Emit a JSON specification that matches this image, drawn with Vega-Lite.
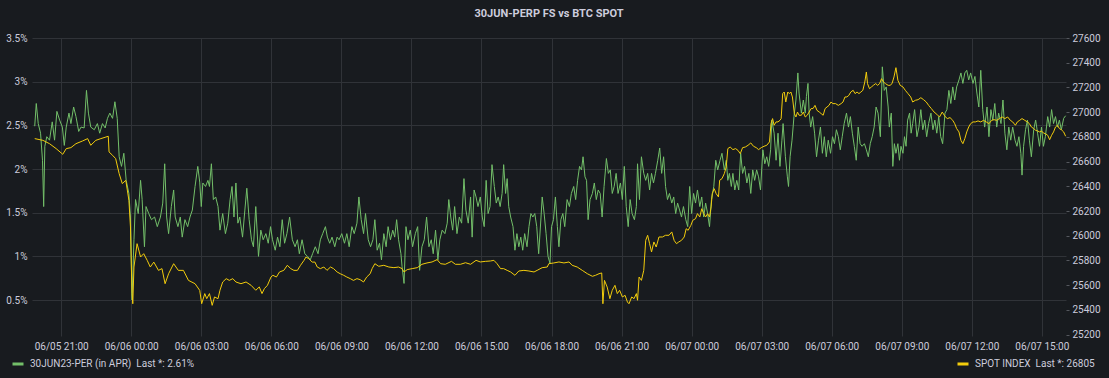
{
"$schema": "https://vega.github.io/schema/vega-lite/v6.json",
"width": 1034, "height": 298,
"autosize": {"type": "none"},
"padding": {"left": 32, "top": 38, "right": 43, "bottom": 42},
"background": "#181b1f",
"title": {"text": "30JUN-PERP FS vs BTC SPOT", "font": "Roboto", "fontSize": 11, "fontWeight": "bold", "color": "#ccccdc", "anchor": "middle", "offset": 14},
"config": {
  "font": "Roboto",
  "view": {"stroke": null},
  "axis": {"labelFont": "Roboto", "labelFontSize": 10, "labelColor": "#ccccdc", "domain": false, "gridColor": "#303338", "gridWidth": 1, "title": null}
},
"datasets": {
"perp": [
{"t":"2023-06-05T19:52","v":2.49},{"t":"2023-06-05T19:56","v":2.75},{"t":"2023-06-05T20:01","v":2.52},{"t":"2023-06-05T20:07","v":2.41},{"t":"2023-06-05T20:12","v":2.10},{"t":"2023-06-05T20:15","v":1.57},{"t":"2023-06-05T20:18","v":2.26},{"t":"2023-06-05T20:23","v":2.37},{"t":"2023-06-05T20:30","v":2.33},{"t":"2023-06-05T20:37","v":2.54},{"t":"2023-06-05T20:43","v":2.33},{"t":"2023-06-05T20:49","v":2.66},{"t":"2023-06-05T20:56","v":2.56},{"t":"2023-06-05T21:03","v":2.48},{"t":"2023-06-05T21:08","v":2.27},{"t":"2023-06-05T21:13","v":2.48},{"t":"2023-06-05T21:20","v":2.64},{"t":"2023-06-05T21:25","v":2.52},{"t":"2023-06-05T21:32","v":2.71},{"t":"2023-06-05T21:38","v":2.60},{"t":"2023-06-05T21:45","v":2.43},{"t":"2023-06-05T21:51","v":2.48},{"t":"2023-06-05T21:59","v":2.47},{"t":"2023-06-05T22:05","v":2.90},{"t":"2023-06-05T22:10","v":2.64},{"t":"2023-06-05T22:16","v":2.48},{"t":"2023-06-05T22:25","v":2.45},{"t":"2023-06-05T22:33","v":2.52},{"t":"2023-06-05T22:39","v":2.41},{"t":"2023-06-05T22:46","v":2.52},{"t":"2023-06-05T22:53","v":2.47},{"t":"2023-06-05T22:59","v":2.58},{"t":"2023-06-05T23:05","v":2.64},{"t":"2023-06-05T23:12","v":2.58},{"t":"2023-06-05T23:18","v":2.77},{"t":"2023-06-05T23:24","v":2.58},{"t":"2023-06-05T23:29","v":2.14},{"t":"2023-06-05T23:35","v":2.03},{"t":"2023-06-05T23:41","v":2.18},{"t":"2023-06-05T23:47","v":1.87},{"t":"2023-06-05T23:54","v":1.72},{"t":"2023-06-05T23:58","v":1.45},
{"t":"2023-06-06T00:02","v":0.50},{"t":"2023-06-06T00:07","v":1.19},{"t":"2023-06-06T00:11","v":1.65},{"t":"2023-06-06T00:18","v":1.49},{"t":"2023-06-06T00:24","v":1.87},{"t":"2023-06-06T00:28","v":1.65},{"t":"2023-06-06T00:34","v":1.11},{"t":"2023-06-06T00:38","v":1.57},{"t":"2023-06-06T00:45","v":1.49},{"t":"2023-06-06T00:52","v":1.42},{"t":"2023-06-06T01:00","v":1.45},{"t":"2023-06-06T01:07","v":1.34},{"t":"2023-06-06T01:15","v":1.45},{"t":"2023-06-06T01:21","v":1.61},{"t":"2023-06-06T01:26","v":2.06},{"t":"2023-06-06T01:31","v":1.45},{"t":"2023-06-06T01:36","v":1.26},{"t":"2023-06-06T01:43","v":1.57},{"t":"2023-06-06T01:49","v":1.76},{"t":"2023-06-06T01:53","v":1.45},{"t":"2023-06-06T02:00","v":1.34},{"t":"2023-06-06T02:06","v":1.45},{"t":"2023-06-06T02:11","v":1.22},{"t":"2023-06-06T02:18","v":1.42},{"t":"2023-06-06T02:25","v":1.34},{"t":"2023-06-06T02:31","v":1.45},{"t":"2023-06-06T02:37","v":1.53},{"t":"2023-06-06T02:44","v":1.80},{"t":"2023-06-06T02:51","v":2.03},{"t":"2023-06-06T02:56","v":1.85},
{"t":"2023-06-06T03:00","v":1.57},{"t":"2023-06-06T03:04","v":1.84},{"t":"2023-06-06T03:11","v":1.80},{"t":"2023-06-06T03:17","v":1.87},{"t":"2023-06-06T03:21","v":1.80},{"t":"2023-06-06T03:26","v":2.06},{"t":"2023-06-06T03:31","v":1.65},{"t":"2023-06-06T03:37","v":1.68},{"t":"2023-06-06T03:43","v":1.57},{"t":"2023-06-06T03:48","v":1.30},{"t":"2023-06-06T03:55","v":1.49},{"t":"2023-06-06T04:02","v":1.26},{"t":"2023-06-06T04:08","v":1.38},{"t":"2023-06-06T04:14","v":1.65},{"t":"2023-06-06T04:19","v":1.80},{"t":"2023-06-06T04:24","v":1.45},{"t":"2023-06-06T04:29","v":1.84},{"t":"2023-06-06T04:34","v":1.38},{"t":"2023-06-06T04:39","v":1.45},{"t":"2023-06-06T04:46","v":1.22},{"t":"2023-06-06T04:52","v":1.53},{"t":"2023-06-06T04:57","v":1.78},{"t":"2023-06-06T05:03","v":1.42},{"t":"2023-06-06T05:09","v":1.19},{"t":"2023-06-06T05:14","v":1.11},{"t":"2023-06-06T05:20","v":1.57},{"t":"2023-06-06T05:27","v":1.00},{"t":"2023-06-06T05:33","v":1.30},{"t":"2023-06-06T05:39","v":1.19},{"t":"2023-06-06T05:46","v":1.26},{"t":"2023-06-06T05:52","v":1.15},{"t":"2023-06-06T05:58","v":1.34},{"t":"2023-06-06T06:03","v":1.19},{"t":"2023-06-06T06:10","v":1.07},{"t":"2023-06-06T06:16","v":1.22},{"t":"2023-06-06T06:22","v":1.11},{"t":"2023-06-06T06:28","v":1.42},{"t":"2023-06-06T06:34","v":1.15},{"t":"2023-06-06T06:40","v":1.26},{"t":"2023-06-06T06:47","v":1.45},{"t":"2023-06-06T06:54","v":1.19},{"t":"2023-06-06T07:01","v":1.11},{"t":"2023-06-06T07:07","v":1.19},{"t":"2023-06-06T07:12","v":1.03},{"t":"2023-06-06T07:19","v":1.19},{"t":"2023-06-06T07:26","v":1.03},{"t":"2023-06-06T07:33","v":1.00},{"t":"2023-06-06T07:40","v":0.96},{"t":"2023-06-06T07:46","v":1.03},{"t":"2023-06-06T07:53","v":1.11},{"t":"2023-06-06T08:00","v":1.03},{"t":"2023-06-06T08:06","v":1.19},{"t":"2023-06-06T08:12","v":1.26},{"t":"2023-06-06T08:19","v":1.34},{"t":"2023-06-06T08:24","v":1.22},{"t":"2023-06-06T08:30","v":1.15},{"t":"2023-06-06T08:36","v":1.22},{"t":"2023-06-06T08:43","v":1.11},{"t":"2023-06-06T08:49","v":1.22},{"t":"2023-06-06T08:54","v":1.19},{"t":"2023-06-06T09:01","v":1.26},{"t":"2023-06-06T09:08","v":1.15},{"t":"2023-06-06T09:14","v":1.26},{"t":"2023-06-06T09:20","v":1.11},{"t":"2023-06-06T09:27","v":1.34},{"t":"2023-06-06T09:33","v":1.26},{"t":"2023-06-06T09:40","v":1.38},{"t":"2023-06-06T09:45","v":1.68},{"t":"2023-06-06T09:51","v":1.42},{"t":"2023-06-06T09:57","v":1.26},{"t":"2023-06-06T10:02","v":1.49},{"t":"2023-06-06T10:09","v":1.19},
{"t":"2023-06-06T10:15","v":1.11},{"t":"2023-06-06T10:21","v":1.19},{"t":"2023-06-06T10:26","v":1.42},{"t":"2023-06-06T10:32","v":1.07},{"t":"2023-06-06T10:38","v":1.15},{"t":"2023-06-06T10:43","v":0.96},{"t":"2023-06-06T10:49","v":1.26},{"t":"2023-06-06T10:55","v":1.11},{"t":"2023-06-06T11:00","v":1.34},{"t":"2023-06-06T11:06","v":1.19},{"t":"2023-06-06T11:12","v":1.30},{"t":"2023-06-06T11:17","v":1.22},{"t":"2023-06-06T11:22","v":1.42},{"t":"2023-06-06T11:27","v":1.19},{"t":"2023-06-06T11:33","v":1.03},{"t":"2023-06-06T11:36","v":0.88},{"t":"2023-06-06T11:41","v":0.69},{"t":"2023-06-06T11:46","v":1.34},{"t":"2023-06-06T11:51","v":1.19},{"t":"2023-06-06T11:57","v":1.30},{"t":"2023-06-06T12:03","v":1.11},{"t":"2023-06-06T12:10","v":1.26},{"t":"2023-06-06T12:16","v":1.34},{"t":"2023-06-06T12:21","v":0.84},{"t":"2023-06-06T12:27","v":1.11},{"t":"2023-06-06T12:33","v":1.19},{"t":"2023-06-06T12:39","v":1.45},{"t":"2023-06-06T12:45","v":1.11},{"t":"2023-06-06T12:51","v":1.19},{"t":"2023-06-06T12:56","v":1.03},{"t":"2023-06-06T13:02","v":1.30},{"t":"2023-06-06T13:08","v":0.96},{"t":"2023-06-06T13:13","v":1.19},{"t":"2023-06-06T13:19","v":1.30},{"t":"2023-06-06T13:26","v":1.26},{"t":"2023-06-06T13:32","v":1.38},{"t":"2023-06-06T13:36","v":1.65},{"t":"2023-06-06T13:41","v":1.45},{"t":"2023-06-06T13:46","v":1.30},{"t":"2023-06-06T13:51","v":1.57},{"t":"2023-06-06T13:57","v":1.26},{"t":"2023-06-06T14:03","v":1.45},{"t":"2023-06-06T14:09","v":1.38},{"t":"2023-06-06T14:15","v":1.89},{"t":"2023-06-06T14:20","v":1.53},{"t":"2023-06-06T14:26","v":1.38},{"t":"2023-06-06T14:32","v":1.68},{"t":"2023-06-06T14:36","v":1.22},{"t":"2023-06-06T14:41","v":1.76},{"t":"2023-06-06T14:46","v":1.68},{"t":"2023-06-06T14:51","v":1.57},{"t":"2023-06-06T14:57","v":1.68},{"t":"2023-06-06T15:02","v":1.45},{"t":"2023-06-06T15:07","v":1.34},{"t":"2023-06-06T15:12","v":1.87},{"t":"2023-06-06T15:17","v":1.49},{"t":"2023-06-06T15:22","v":1.57},{"t":"2023-06-06T15:27","v":2.05},{"t":"2023-06-06T15:33","v":1.80},{"t":"2023-06-06T15:38","v":1.61},{"t":"2023-06-06T15:43","v":1.68},{"t":"2023-06-06T15:48","v":1.57},{"t":"2023-06-06T15:53","v":1.72},{"t":"2023-06-06T15:57","v":2.05},{"t":"2023-06-06T16:02","v":1.72},{"t":"2023-06-06T16:06","v":1.89},{"t":"2023-06-06T16:10","v":1.57},{"t":"2023-06-06T16:15","v":1.45},{"t":"2023-06-06T16:21","v":1.34},{"t":"2023-06-06T16:26","v":1.07},{"t":"2023-06-06T16:31","v":1.26},{"t":"2023-06-06T16:36","v":1.11},{"t":"2023-06-06T16:41","v":1.22},{"t":"2023-06-06T16:46","v":1.07},{"t":"2023-06-06T16:51","v":1.26},{"t":"2023-06-06T16:57","v":1.11},{"t":"2023-06-06T17:02","v":1.34},{"t":"2023-06-06T17:07","v":1.49},{"t":"2023-06-06T17:12","v":1.45},{"t":"2023-06-06T17:17","v":1.49},{"t":"2023-06-06T17:22","v":1.34},{"t":"2023-06-06T17:27","v":1.03},{"t":"2023-06-06T17:33","v":1.45},{"t":"2023-06-06T17:36","v":1.68},{"t":"2023-06-06T17:41","v":1.49},{"t":"2023-06-06T17:46","v":1.26},{"t":"2023-06-06T17:51","v":1.00},
{"t":"2023-06-06T17:56","v":0.92},{"t":"2023-06-06T18:00","v":1.34},{"t":"2023-06-06T18:05","v":1.42},{"t":"2023-06-06T18:10","v":1.68},{"t":"2023-06-06T18:15","v":1.34},{"t":"2023-06-06T18:19","v":1.11},{"t":"2023-06-06T18:24","v":1.42},{"t":"2023-06-06T18:29","v":1.49},{"t":"2023-06-06T18:34","v":1.34},{"t":"2023-06-06T18:40","v":1.65},{"t":"2023-06-06T18:46","v":1.57},{"t":"2023-06-06T18:51","v":1.72},{"t":"2023-06-06T18:57","v":1.80},{"t":"2023-06-06T19:02","v":1.65},{"t":"2023-06-06T19:07","v":1.87},{"t":"2023-06-06T19:12","v":2.03},{"t":"2023-06-06T19:17","v":1.99},{"t":"2023-06-06T19:21","v":2.14},{"t":"2023-06-06T19:26","v":1.91},{"t":"2023-06-06T19:30","v":1.87},{"t":"2023-06-06T19:34","v":1.42},{"t":"2023-06-06T19:39","v":1.65},{"t":"2023-06-06T19:45","v":1.72},{"t":"2023-06-06T19:50","v":1.84},{"t":"2023-06-06T19:55","v":1.65},{"t":"2023-06-06T20:00","v":1.76},{"t":"2023-06-06T20:05","v":1.72},{"t":"2023-06-06T20:10","v":1.45},{"t":"2023-06-06T20:15","v":1.80},{"t":"2023-06-06T20:21","v":2.12},{"t":"2023-06-06T20:26","v":1.95},{"t":"2023-06-06T20:31","v":1.99},{"t":"2023-06-06T20:36","v":1.72},{"t":"2023-06-06T20:41","v":1.80},{"t":"2023-06-06T20:46","v":1.95},{"t":"2023-06-06T20:51","v":1.72},{"t":"2023-06-06T20:57","v":1.84},{"t":"2023-06-06T21:02","v":1.65},{"t":"2023-06-06T21:07","v":2.03},{"t":"2023-06-06T21:12","v":1.57},{"t":"2023-06-06T21:17","v":1.34},{"t":"2023-06-06T21:22","v":1.65},{"t":"2023-06-06T21:27","v":1.49},{"t":"2023-06-06T21:33","v":1.42},{"t":"2023-06-06T21:38","v":1.57},{"t":"2023-06-06T21:41","v":2.06},{"t":"2023-06-06T21:46","v":1.65},{"t":"2023-06-06T21:51","v":2.14},{"t":"2023-06-06T21:57","v":1.95},{"t":"2023-06-06T22:02","v":1.87},{"t":"2023-06-06T22:07","v":1.95},{"t":"2023-06-06T22:12","v":1.76},{"t":"2023-06-06T22:17","v":1.95},{"t":"2023-06-06T22:22","v":1.84},{"t":"2023-06-06T22:27","v":1.95},{"t":"2023-06-06T22:33","v":2.10},{"t":"2023-06-06T22:38","v":2.24},{"t":"2023-06-06T22:43","v":1.95},{"t":"2023-06-06T22:48","v":2.14},{"t":"2023-06-06T22:53","v":1.80},{"t":"2023-06-06T22:58","v":1.65},{"t":"2023-06-06T23:03","v":1.72},{"t":"2023-06-06T23:09","v":1.61},{"t":"2023-06-06T23:14","v":1.68},{"t":"2023-06-06T23:19","v":1.49},{"t":"2023-06-06T23:24","v":1.61},{"t":"2023-06-06T23:29","v":1.53},{"t":"2023-06-06T23:34","v":1.45},{"t":"2023-06-06T23:39","v":1.57},{"t":"2023-06-06T23:45","v":1.42},{"t":"2023-06-06T23:50","v":1.34},{"t":"2023-06-06T23:55","v":1.80},
{"t":"2023-06-07T00:00","v":1.49},{"t":"2023-06-07T00:05","v":1.72},{"t":"2023-06-07T00:10","v":1.61},{"t":"2023-06-07T00:15","v":1.76},{"t":"2023-06-07T00:21","v":1.57},{"t":"2023-06-07T00:26","v":1.68},{"t":"2023-06-07T00:31","v":1.45},{"t":"2023-06-07T00:36","v":1.61},{"t":"2023-06-07T00:41","v":1.49},{"t":"2023-06-07T00:46","v":1.34},{"t":"2023-06-07T00:51","v":1.65},{"t":"2023-06-07T00:57","v":1.80},{"t":"2023-06-07T01:02","v":2.10},{"t":"2023-06-07T01:07","v":1.99},{"t":"2023-06-07T01:13","v":2.10},{"t":"2023-06-07T01:18","v":2.18},{"t":"2023-06-07T01:24","v":1.99},{"t":"2023-06-07T01:29","v":2.10},{"t":"2023-06-07T01:33","v":1.87},{"t":"2023-06-07T01:37","v":1.95},{"t":"2023-06-07T01:42","v":1.80},{"t":"2023-06-07T01:46","v":1.95},{"t":"2023-06-07T01:51","v":1.76},{"t":"2023-06-07T01:56","v":1.87},{"t":"2023-06-07T02:01","v":1.76},{"t":"2023-06-07T02:06","v":2.18},{"t":"2023-06-07T02:11","v":1.95},{"t":"2023-06-07T02:16","v":2.03},{"t":"2023-06-07T02:22","v":1.84},{"t":"2023-06-07T02:27","v":1.95},{"t":"2023-06-07T02:32","v":1.72},{"t":"2023-06-07T02:37","v":1.99},{"t":"2023-06-07T02:42","v":1.87},{"t":"2023-06-07T02:47","v":1.99},{"t":"2023-06-07T02:52","v":1.91},{"t":"2023-06-07T02:57","v":1.76},{"t":"2023-06-07T03:03","v":2.22},{"t":"2023-06-07T03:08","v":2.06},{"t":"2023-06-07T03:13","v":2.14},{"t":"2023-06-07T03:18","v":2.03},{"t":"2023-06-07T03:23","v":2.22},{"t":"2023-06-07T03:26","v":2.56},{"t":"2023-06-07T03:32","v":2.41},{"t":"2023-06-07T03:37","v":2.10},{"t":"2023-06-07T03:42","v":2.41},{"t":"2023-06-07T03:47","v":2.03},{"t":"2023-06-07T03:52","v":2.33},{"t":"2023-06-07T03:55","v":2.52},{"t":"2023-06-07T04:01","v":2.14},{"t":"2023-06-07T04:06","v":1.91},{"t":"2023-06-07T04:09","v":1.80},{"t":"2023-06-07T04:13","v":2.14},{"t":"2023-06-07T04:18","v":2.33},{"t":"2023-06-07T04:23","v":2.60},{"t":"2023-06-07T04:28","v":2.79},{"t":"2023-06-07T04:33","v":3.10},{"t":"2023-06-07T04:36","v":2.87},{"t":"2023-06-07T04:42","v":2.64},{"t":"2023-06-07T04:47","v":2.79},{"t":"2023-06-07T04:52","v":2.64},{"t":"2023-06-07T04:55","v":2.83},{"t":"2023-06-07T04:59","v":2.98},{"t":"2023-06-07T05:02","v":2.64},{"t":"2023-06-07T05:06","v":2.48},{"t":"2023-06-07T05:11","v":2.60},{"t":"2023-06-07T05:16","v":2.41},{"t":"2023-06-07T05:21","v":2.14},{"t":"2023-06-07T05:26","v":2.33},{"t":"2023-06-07T05:31","v":2.48},{"t":"2023-06-07T05:36","v":2.18},{"t":"2023-06-07T05:41","v":2.37},{"t":"2023-06-07T05:46","v":2.14},{"t":"2023-06-07T05:51","v":2.33},{"t":"2023-06-07T05:57","v":2.18},{"t":"2023-06-07T06:02","v":2.37},{"t":"2023-06-07T06:07","v":2.29},{"t":"2023-06-07T06:12","v":2.45},{"t":"2023-06-07T06:17","v":2.37},{"t":"2023-06-07T06:22","v":2.22},{"t":"2023-06-07T06:27","v":2.37},{"t":"2023-06-07T06:32","v":2.52},{"t":"2023-06-07T06:38","v":2.64},{"t":"2023-06-07T06:43","v":2.48},{"t":"2023-06-07T06:48","v":2.60},{"t":"2023-06-07T06:53","v":2.41},{"t":"2023-06-07T06:58","v":2.26},{"t":"2023-06-07T07:03","v":2.10},{"t":"2023-06-07T07:08","v":2.48},{"t":"2023-06-07T07:13","v":2.29},{"t":"2023-06-07T07:18","v":2.26},{"t":"2023-06-07T07:24","v":2.29},{"t":"2023-06-07T07:29","v":2.22},{"t":"2023-06-07T07:34","v":2.14},{"t":"2023-06-07T07:39","v":2.29},{"t":"2023-06-07T07:44","v":2.37},{"t":"2023-06-07T07:49","v":2.48},{"t":"2023-06-07T07:54","v":2.71},{"t":"2023-06-07T07:59","v":2.64},{"t":"2023-06-07T08:05","v":2.37},{"t":"2023-06-07T08:10","v":3.17},{"t":"2023-06-07T08:15","v":2.90},{"t":"2023-06-07T08:20","v":2.94},{"t":"2023-06-07T08:25","v":2.71},
{"t":"2023-06-07T08:28","v":2.48},{"t":"2023-06-07T08:33","v":2.64},{"t":"2023-06-07T08:37","v":2.03},{"t":"2023-06-07T08:41","v":2.29},{"t":"2023-06-07T08:45","v":2.18},{"t":"2023-06-07T08:50","v":2.29},{"t":"2023-06-07T08:54","v":2.10},{"t":"2023-06-07T08:58","v":2.26},{"t":"2023-06-07T09:03","v":2.18},{"t":"2023-06-07T09:07","v":2.37},{"t":"2023-06-07T09:11","v":2.26},{"t":"2023-06-07T09:15","v":2.56},{"t":"2023-06-07T09:20","v":2.64},{"t":"2023-06-07T09:24","v":2.41},{"t":"2023-06-07T09:28","v":2.52},{"t":"2023-06-07T09:33","v":2.68},{"t":"2023-06-07T09:39","v":2.37},{"t":"2023-06-07T09:44","v":2.48},{"t":"2023-06-07T09:49","v":2.68},{"t":"2023-06-07T09:54","v":2.45},{"t":"2023-06-07T09:59","v":2.56},{"t":"2023-06-07T10:04","v":2.37},{"t":"2023-06-07T10:09","v":2.52},{"t":"2023-06-07T10:15","v":2.64},{"t":"2023-06-07T10:20","v":2.45},{"t":"2023-06-07T10:25","v":2.56},{"t":"2023-06-07T10:30","v":2.41},{"t":"2023-06-07T10:35","v":2.60},{"t":"2023-06-07T10:40","v":2.37},{"t":"2023-06-07T10:45","v":2.29},{"t":"2023-06-07T10:51","v":2.64},{"t":"2023-06-07T10:56","v":2.68},{"t":"2023-06-07T11:01","v":2.90},{"t":"2023-06-07T11:06","v":2.75},{"t":"2023-06-07T11:11","v":2.94},{"t":"2023-06-07T11:16","v":2.79},{"t":"2023-06-07T11:21","v":2.94},{"t":"2023-06-07T11:27","v":3.02},{"t":"2023-06-07T11:32","v":3.10},{"t":"2023-06-07T11:37","v":2.98},{"t":"2023-06-07T11:42","v":3.10},{"t":"2023-06-07T11:47","v":3.13},{"t":"2023-06-07T11:52","v":3.02},{"t":"2023-06-07T11:57","v":3.10},{"t":"2023-06-07T12:03","v":2.98},{"t":"2023-06-07T12:08","v":3.06},{"t":"2023-06-07T12:13","v":2.87},{"t":"2023-06-07T12:18","v":2.71},{"t":"2023-06-07T12:23","v":3.13},{"t":"2023-06-07T12:28","v":2.68},{"t":"2023-06-07T12:33","v":2.48},{"t":"2023-06-07T12:39","v":2.71},{"t":"2023-06-07T12:44","v":2.37},{"t":"2023-06-07T12:49","v":2.68},{"t":"2023-06-07T12:54","v":2.56},{"t":"2023-06-07T12:59","v":2.75},{"t":"2023-06-07T13:04","v":2.48},{"t":"2023-06-07T13:09","v":2.64},{"t":"2023-06-07T13:15","v":2.52},{"t":"2023-06-07T13:20","v":2.79},{"t":"2023-06-07T13:25","v":2.41},{"t":"2023-06-07T13:30","v":2.22},{"t":"2023-06-07T13:35","v":2.48},{"t":"2023-06-07T13:40","v":2.33},{"t":"2023-06-07T13:45","v":2.48},{"t":"2023-06-07T13:51","v":2.33},{"t":"2023-06-07T13:56","v":2.26},{"t":"2023-06-07T14:01","v":2.37},{"t":"2023-06-07T14:06","v":2.18},{"t":"2023-06-07T14:09","v":1.93},{"t":"2023-06-07T14:13","v":2.26},{"t":"2023-06-07T14:18","v":2.45},{"t":"2023-06-07T14:23","v":2.56},{"t":"2023-06-07T14:28","v":2.33},{"t":"2023-06-07T14:33","v":2.14},{"t":"2023-06-07T14:39","v":2.45},{"t":"2023-06-07T14:44","v":2.56},{"t":"2023-06-07T14:49","v":2.41},{"t":"2023-06-07T14:54","v":2.26},{"t":"2023-06-07T14:59","v":2.48},{"t":"2023-06-07T15:04","v":2.26},{"t":"2023-06-07T15:09","v":2.37},{"t":"2023-06-07T15:15","v":2.60},{"t":"2023-06-07T15:20","v":2.48},{"t":"2023-06-07T15:25","v":2.68},{"t":"2023-06-07T15:30","v":2.52},{"t":"2023-06-07T15:35","v":2.60},{"t":"2023-06-07T15:40","v":2.48},{"t":"2023-06-07T15:45","v":2.56},{"t":"2023-06-07T15:50","v":2.45},{"t":"2023-06-07T15:56","v":2.58},{"t":"2023-06-07T16:01","v":2.61}
],
"spot": [
{"t":"2023-06-05T19:52","v":26786},{"t":"2023-06-05T20:13","v":26772},{"t":"2023-06-05T20:30","v":26745},{"t":"2023-06-05T20:47","v":26705},{"t":"2023-06-05T21:00","v":26670},{"t":"2023-06-05T21:04","v":26659},{"t":"2023-06-05T21:13","v":26705},{"t":"2023-06-05T21:25","v":26713},{"t":"2023-06-05T21:38","v":26745},{"t":"2023-06-05T21:55","v":26767},{"t":"2023-06-05T22:08","v":26786},{"t":"2023-06-05T22:16","v":26732},{"t":"2023-06-05T22:29","v":26772},{"t":"2023-06-05T22:42","v":26786},{"t":"2023-06-05T22:55","v":26799},{"t":"2023-06-05T23:01","v":26805},{"t":"2023-06-05T23:03","v":26678},{"t":"2023-06-05T23:12","v":26651},{"t":"2023-06-05T23:20","v":26624},{"t":"2023-06-05T23:29","v":26502},{"t":"2023-06-05T23:37","v":26422},{"t":"2023-06-05T23:46","v":26449},{"t":"2023-06-05T23:54","v":26287},{"t":"2023-06-05T23:58","v":26071},
{"t":"2023-06-06T00:02","v":25532},{"t":"2023-06-06T00:04","v":25450},{"t":"2023-06-06T00:07","v":25747},{"t":"2023-06-06T00:15","v":25936},{"t":"2023-06-06T00:24","v":25828},{"t":"2023-06-06T00:32","v":25855},{"t":"2023-06-06T00:41","v":25801},{"t":"2023-06-06T00:49","v":25747},{"t":"2023-06-06T00:58","v":25787},{"t":"2023-06-06T01:10","v":25720},{"t":"2023-06-06T01:19","v":25734},{"t":"2023-06-06T01:27","v":25612},{"t":"2023-06-06T01:36","v":25693},{"t":"2023-06-06T01:49","v":25774},{"t":"2023-06-06T02:01","v":25720},{"t":"2023-06-06T02:14","v":25720},{"t":"2023-06-06T02:27","v":25639},{"t":"2023-06-06T02:44","v":25612},{"t":"2023-06-06T02:56","v":25558},{"t":"2023-06-06T03:01","v":25450},{"t":"2023-06-06T03:09","v":25532},{"t":"2023-06-06T03:14","v":25491},{"t":"2023-06-06T03:21","v":25532},{"t":"2023-06-06T03:28","v":25437},{"t":"2023-06-06T03:34","v":25505},{"t":"2023-06-06T03:43","v":25491},{"t":"2023-06-06T03:48","v":25559},{"t":"2023-06-06T03:55","v":25626},{"t":"2023-06-06T04:04","v":25653},{"t":"2023-06-06T04:12","v":25639},{"t":"2023-06-06T04:21","v":25653},{"t":"2023-06-06T04:29","v":25626},{"t":"2023-06-06T04:42","v":25612},{"t":"2023-06-06T04:55","v":25626},{"t":"2023-06-06T05:08","v":25599},{"t":"2023-06-06T05:20","v":25559},{"t":"2023-06-06T05:29","v":25586},{"t":"2023-06-06T05:36","v":25532},{"t":"2023-06-06T05:42","v":25572},{"t":"2023-06-06T05:50","v":25599},{"t":"2023-06-06T05:59","v":25666},{"t":"2023-06-06T06:04","v":25680},{"t":"2023-06-06T06:13","v":25666},{"t":"2023-06-06T06:21","v":25707},{"t":"2023-06-06T06:32","v":25720},{"t":"2023-06-06T06:41","v":25761},{"t":"2023-06-06T06:50","v":25734},{"t":"2023-06-06T06:58","v":25720},{"t":"2023-06-06T07:07","v":25720},{"t":"2023-06-06T07:15","v":25761},{"t":"2023-06-06T07:24","v":25801},{"t":"2023-06-06T07:29","v":25828},{"t":"2023-06-06T07:36","v":25815},{"t":"2023-06-06T07:45","v":25787},{"t":"2023-06-06T07:52","v":25787},{"t":"2023-06-06T07:58","v":25747},{"t":"2023-06-06T08:06","v":25734},{"t":"2023-06-06T08:15","v":25747},{"t":"2023-06-06T08:23","v":25720},{"t":"2023-06-06T08:32","v":25747},{"t":"2023-06-06T08:40","v":25734},{"t":"2023-06-06T08:49","v":25707},{"t":"2023-06-06T08:57","v":25693},{"t":"2023-06-06T09:06","v":25680},{"t":"2023-06-06T09:14","v":25666},{"t":"2023-06-06T09:23","v":25653},{"t":"2023-06-06T09:31","v":25639},{"t":"2023-06-06T09:40","v":25653},{"t":"2023-06-06T09:48","v":25645},{"t":"2023-06-06T09:57","v":25626},{"t":"2023-06-06T10:05","v":25666},{"t":"2023-06-06T10:14","v":25693},{"t":"2023-06-06T10:19","v":25734},{"t":"2023-06-06T10:26","v":25774},{"t":"2023-06-06T10:36","v":25753},{"t":"2023-06-06T10:49","v":25761},{"t":"2023-06-06T11:02","v":25747},{"t":"2023-06-06T11:15","v":25742},{"t":"2023-06-06T11:27","v":25747},{"t":"2023-06-06T11:36","v":25734},{"t":"2023-06-06T11:41","v":25707},{"t":"2023-06-06T11:49","v":25726},{"t":"2023-06-06T12:02","v":25734},{"t":"2023-06-06T12:15","v":25742},{"t":"2023-06-06T12:27","v":25769},{"t":"2023-06-06T12:40","v":25780},{"t":"2023-06-06T12:53","v":25788},{"t":"2023-06-06T13:06","v":25807},{"t":"2023-06-06T13:15","v":25774},{"t":"2023-06-06T13:27","v":25769},{"t":"2023-06-06T13:43","v":25793},{"t":"2023-06-06T13:53","v":25769},{"t":"2023-06-06T14:06","v":25769},{"t":"2023-06-06T14:19","v":25782},{"t":"2023-06-06T14:32","v":25769},{"t":"2023-06-06T14:46","v":25801},{"t":"2023-06-06T14:57","v":25788},{"t":"2023-06-06T15:10","v":25793},{"t":"2023-06-06T15:23","v":25796},{"t":"2023-06-06T15:32","v":25801},{"t":"2023-06-06T15:40","v":25774},{"t":"2023-06-06T15:49","v":25734},{"t":"2023-06-06T15:57","v":25734},{"t":"2023-06-06T16:06","v":25720},{"t":"2023-06-06T16:15","v":25707},{"t":"2023-06-06T16:26","v":25680},{"t":"2023-06-06T16:36","v":25715},{"t":"2023-06-06T16:49","v":25720},{"t":"2023-06-06T17:02","v":25715},{"t":"2023-06-06T17:15","v":25707},{"t":"2023-06-06T17:23","v":25720},{"t":"2023-06-06T17:36","v":25742},{"t":"2023-06-06T17:49","v":25747},{"t":"2023-06-06T17:53","v":25774},{"t":"2023-06-06T18:06","v":25780},{"t":"2023-06-06T18:19","v":25788},{"t":"2023-06-06T18:32","v":25780},{"t":"2023-06-06T18:45","v":25788},{"t":"2023-06-06T18:53","v":25761},{"t":"2023-06-06T19:06","v":25747},{"t":"2023-06-06T19:19","v":25720},{"t":"2023-06-06T19:32","v":25693},{"t":"2023-06-06T19:45","v":25672},{"t":"2023-06-06T19:53","v":25680},{"t":"2023-06-06T20:02","v":25693},{"t":"2023-06-06T20:09","v":25699},{"t":"2023-06-06T20:12","v":25450},{"t":"2023-06-06T20:16","v":25639},{"t":"2023-06-06T20:23","v":25585},{"t":"2023-06-06T20:30","v":25491},{"t":"2023-06-06T20:36","v":25559},{"t":"2023-06-06T20:43","v":25599},{"t":"2023-06-06T20:49","v":25532},{"t":"2023-06-06T20:55","v":25559},{"t":"2023-06-06T21:02","v":25505},{"t":"2023-06-06T21:09","v":25518},{"t":"2023-06-06T21:15","v":25464},{"t":"2023-06-06T21:19","v":25450},{"t":"2023-06-06T21:26","v":25505},{"t":"2023-06-06T21:32","v":25491},{"t":"2023-06-06T21:38","v":25532},{"t":"2023-06-06T21:41","v":25478},{"t":"2023-06-06T21:45","v":25666},{"t":"2023-06-06T21:51","v":25639},{"t":"2023-06-06T21:57","v":25720},{"t":"2023-06-06T22:02","v":25963},{"t":"2023-06-06T22:07","v":26004},{"t":"2023-06-06T22:12","v":25936},{"t":"2023-06-06T22:17","v":25869},{"t":"2023-06-06T22:23","v":25950},{"t":"2023-06-06T22:29","v":25909},{"t":"2023-06-06T22:36","v":25990},{"t":"2023-06-06T22:45","v":25990},{"t":"2023-06-06T22:53","v":26004},{"t":"2023-06-06T23:02","v":26004},{"t":"2023-06-06T23:09","v":26031},{"t":"2023-06-06T23:15","v":25963},{"t":"2023-06-06T23:21","v":25936},{"t":"2023-06-06T23:27","v":25950},{"t":"2023-06-06T23:34","v":25963},{"t":"2023-06-06T23:41","v":25990},{"t":"2023-06-06T23:46","v":26057},{"t":"2023-06-06T23:51","v":26044},{"t":"2023-06-06T23:58","v":26084},
{"t":"2023-06-07T00:03","v":26125},{"t":"2023-06-07T00:10","v":26138},{"t":"2023-06-07T00:15","v":26179},{"t":"2023-06-07T00:21","v":26152},{"t":"2023-06-07T00:26","v":26219},{"t":"2023-06-07T00:31","v":26179},{"t":"2023-06-07T00:36","v":26152},{"t":"2023-06-07T00:41","v":26179},{"t":"2023-06-07T00:46","v":26152},{"t":"2023-06-07T00:50","v":26233},{"t":"2023-06-07T00:53","v":26341},{"t":"2023-06-07T00:58","v":26381},{"t":"2023-06-07T01:03","v":26341},{"t":"2023-06-07T01:09","v":26314},{"t":"2023-06-07T01:12","v":26449},{"t":"2023-06-07T01:18","v":26462},{"t":"2023-06-07T01:24","v":26503},{"t":"2023-06-07T01:29","v":26557},{"t":"2023-06-07T01:33","v":26705},{"t":"2023-06-07T01:39","v":26718},{"t":"2023-06-07T01:46","v":26697},{"t":"2023-06-07T01:53","v":26705},{"t":"2023-06-07T01:59","v":26691},{"t":"2023-06-07T02:05","v":26664},{"t":"2023-06-07T02:11","v":26713},{"t":"2023-06-07T02:18","v":26718},{"t":"2023-06-07T02:25","v":26732},{"t":"2023-06-07T02:32","v":26751},{"t":"2023-06-07T02:39","v":26724},{"t":"2023-06-07T02:46","v":26713},{"t":"2023-06-07T02:52","v":26697},{"t":"2023-06-07T02:59","v":26713},{"t":"2023-06-07T03:06","v":26724},{"t":"2023-06-07T03:13","v":26732},{"t":"2023-06-07T03:20","v":26759},{"t":"2023-06-07T03:24","v":26907},{"t":"2023-06-07T03:28","v":26948},{"t":"2023-06-07T03:32","v":26894},{"t":"2023-06-07T03:37","v":26921},{"t":"2023-06-07T03:42","v":26921},{"t":"2023-06-07T03:47","v":26934},{"t":"2023-06-07T03:50","v":26948},{"t":"2023-06-07T03:54","v":27150},{"t":"2023-06-07T03:58","v":27163},{"t":"2023-06-07T04:02","v":27082},{"t":"2023-06-07T04:07","v":27163},{"t":"2023-06-07T04:11","v":27150},{"t":"2023-06-07T04:15","v":27163},{"t":"2023-06-07T04:19","v":27123},{"t":"2023-06-07T04:24","v":26988},{"t":"2023-06-07T04:28","v":26961},{"t":"2023-06-07T04:32","v":27001},{"t":"2023-06-07T04:36","v":26975},{"t":"2023-06-07T04:42","v":26975},{"t":"2023-06-07T04:47","v":27001},{"t":"2023-06-07T04:52","v":26961},{"t":"2023-06-07T04:57","v":26975},{"t":"2023-06-07T05:02","v":27001},{"t":"2023-06-07T05:07","v":27029},{"t":"2023-06-07T05:12","v":27029},{"t":"2023-06-07T05:17","v":27055},{"t":"2023-06-07T05:22","v":27015},{"t":"2023-06-07T05:28","v":27001},{"t":"2023-06-07T05:33","v":26988},{"t":"2023-06-07T05:38","v":26975},{"t":"2023-06-07T05:43","v":27029},{"t":"2023-06-07T05:48","v":27042},{"t":"2023-06-07T05:53","v":27055},{"t":"2023-06-07T05:58","v":27082},{"t":"2023-06-07T06:03","v":27069},{"t":"2023-06-07T06:10","v":27069},{"t":"2023-06-07T06:17","v":27055},{"t":"2023-06-07T06:24","v":27069},{"t":"2023-06-07T06:29","v":27082},{"t":"2023-06-07T06:34","v":27123},{"t":"2023-06-07T06:39","v":27123},{"t":"2023-06-07T06:44","v":27136},{"t":"2023-06-07T06:49","v":27163},{"t":"2023-06-07T06:55","v":27177},{"t":"2023-06-07T07:00","v":27150},{"t":"2023-06-07T07:05","v":27163},{"t":"2023-06-07T07:10","v":27150},{"t":"2023-06-07T07:15","v":27163},{"t":"2023-06-07T07:20","v":27177},{"t":"2023-06-07T07:25","v":27244},{"t":"2023-06-07T07:29","v":27325},{"t":"2023-06-07T07:32","v":27231},{"t":"2023-06-07T07:37","v":27190},{"t":"2023-06-07T07:42","v":27204},{"t":"2023-06-07T07:47","v":27217},{"t":"2023-06-07T07:53","v":27231},{"t":"2023-06-07T07:58","v":27217},{"t":"2023-06-07T08:03","v":27231},{"t":"2023-06-07T08:08","v":27271},{"t":"2023-06-07T08:13","v":27244},{"t":"2023-06-07T08:18","v":27231},{"t":"2023-06-07T08:25","v":27217},{"t":"2023-06-07T08:30","v":27217},{"t":"2023-06-07T08:35","v":27231},{"t":"2023-06-07T08:40","v":27285},{"t":"2023-06-07T08:45","v":27360},{"t":"2023-06-07T08:50","v":27258},{"t":"2023-06-07T08:56","v":27217},{"t":"2023-06-07T09:03","v":27204},{"t":"2023-06-07T09:09","v":27177},{"t":"2023-06-07T09:16","v":27150},{"t":"2023-06-07T09:23","v":27123},{"t":"2023-06-07T09:28","v":27082},{"t":"2023-06-07T09:35","v":27096},{"t":"2023-06-07T09:42","v":27101},{"t":"2023-06-07T09:49","v":27117},{"t":"2023-06-07T09:56","v":27101},{"t":"2023-06-07T10:03","v":27082},{"t":"2023-06-07T10:09","v":27055},{"t":"2023-06-07T10:16","v":27029},{"t":"2023-06-07T10:23","v":27001},{"t":"2023-06-07T10:30","v":26983},{"t":"2023-06-07T10:37","v":26961},{"t":"2023-06-07T10:44","v":27001},{"t":"2023-06-07T10:51","v":26966},{"t":"2023-06-07T10:57","v":26948},{"t":"2023-06-07T11:04","v":26956},{"t":"2023-06-07T11:11","v":26934},{"t":"2023-06-07T11:16","v":26907},{"t":"2023-06-07T11:21","v":26867},{"t":"2023-06-07T11:27","v":26840},{"t":"2023-06-07T11:32","v":26772},{"t":"2023-06-07T11:37","v":26745},{"t":"2023-06-07T11:42","v":26786},{"t":"2023-06-07T11:47","v":26840},{"t":"2023-06-07T11:52","v":26880},{"t":"2023-06-07T11:57","v":26907},{"t":"2023-06-07T12:03","v":26921},{"t":"2023-06-07T12:09","v":26921},{"t":"2023-06-07T12:16","v":26929},{"t":"2023-06-07T12:23","v":26921},{"t":"2023-06-07T12:30","v":26934},{"t":"2023-06-07T12:37","v":26921},{"t":"2023-06-07T12:44","v":26907},{"t":"2023-06-07T12:51","v":26934},{"t":"2023-06-07T12:57","v":26939},{"t":"2023-06-07T13:04","v":26934},{"t":"2023-06-07T13:11","v":26948},{"t":"2023-06-07T13:18","v":26961},{"t":"2023-06-07T13:25","v":26948},{"t":"2023-06-07T13:32","v":26961},{"t":"2023-06-07T13:39","v":26934},{"t":"2023-06-07T13:45","v":26921},{"t":"2023-06-07T13:52","v":26894},{"t":"2023-06-07T13:57","v":26921},{"t":"2023-06-07T14:03","v":26934},{"t":"2023-06-07T14:09","v":26948},{"t":"2023-06-07T14:16","v":26934},{"t":"2023-06-07T14:23","v":26921},{"t":"2023-06-07T14:28","v":26907},{"t":"2023-06-07T14:33","v":26880},{"t":"2023-06-07T14:39","v":26867},{"t":"2023-06-07T14:44","v":26853},{"t":"2023-06-07T14:49","v":26848},{"t":"2023-06-07T14:54","v":26840},{"t":"2023-06-07T14:59","v":26848},{"t":"2023-06-07T15:04","v":26831},{"t":"2023-06-07T15:09","v":26826},{"t":"2023-06-07T15:15","v":26813},{"t":"2023-06-07T15:20","v":26777},{"t":"2023-06-07T15:25","v":26813},{"t":"2023-06-07T15:30","v":26840},{"t":"2023-06-07T15:35","v":26880},{"t":"2023-06-07T15:40","v":26894},{"t":"2023-06-07T15:45","v":26867},{"t":"2023-06-07T15:50","v":26858},{"t":"2023-06-07T15:56","v":26840},{"t":"2023-06-07T16:01","v":26805}
]
},
"encoding": {
  "x": {"field": "t", "type": "temporal",
    "scale": {"domain": [{"year": 2023, "month": 6, "date": 5, "hours": 19, "minutes": 45}, {"year": 2023, "month": 6, "date": 7, "hours": 16, "minutes": 2}]},
    "axis": {"orient": "bottom", "format": "%m/%d %H:%M", "grid": true, "ticks": false, "tickSize": 0, "labelPadding": 5, "labelOverlap": false, "labelFlush": false,
      "values": [
        {"year": 2023, "month": 6, "date": 5, "hours": 21},
        {"year": 2023, "month": 6, "date": 6, "hours": 0},
        {"year": 2023, "month": 6, "date": 6, "hours": 3},
        {"year": 2023, "month": 6, "date": 6, "hours": 6},
        {"year": 2023, "month": 6, "date": 6, "hours": 9},
        {"year": 2023, "month": 6, "date": 6, "hours": 12},
        {"year": 2023, "month": 6, "date": 6, "hours": 15},
        {"year": 2023, "month": 6, "date": 6, "hours": 18},
        {"year": 2023, "month": 6, "date": 6, "hours": 21},
        {"year": 2023, "month": 6, "date": 7, "hours": 0},
        {"year": 2023, "month": 6, "date": 7, "hours": 3},
        {"year": 2023, "month": 6, "date": 7, "hours": 6},
        {"year": 2023, "month": 6, "date": 7, "hours": 9},
        {"year": 2023, "month": 6, "date": 7, "hours": 12},
        {"year": 2023, "month": 6, "date": 7, "hours": 15}
      ]}}
},
"layer": [
  {
    "data": {"name": "perp"},
    "mark": {"type": "line", "strokeWidth": 1, "interpolate": "linear"},
    "encoding": {
      "y": {"field": "v", "type": "quantitative",
        "scale": {"domain": [0.088, 3.5], "nice": false, "zero": false},
        "axis": {"orient": "left", "values": [0.5, 1, 1.5, 2, 2.5, 3, 3.5], "labelExpr": "datum.value + '%'", "grid": true, "ticks": false, "tickSize": 0, "labelPadding": 5}},
      "color": {"datum": "30JUN23-PER (in APR)\u00a0\u00a0Last *: 2.61%",
        "scale": {"range": ["#73bf69"]},
        "legend": {"orient": "none", "legendX": -21, "legendY": 319, "title": null, "symbolType": "stroke", "symbolStrokeWidth": 3, "symbolSize": 121, "labelFont": "Roboto", "labelFontSize": 10, "labelColor": "#ccccdc", "labelLimit": 400, "labelOffset": 5, "padding": 0}}
    }
  },
  {
    "data": {"name": "spot"},
    "mark": {"type": "line", "strokeWidth": 1, "interpolate": "linear"},
    "encoding": {
      "y": {"field": "v", "type": "quantitative",
        "scale": {"domain": [25189, 27600], "nice": false, "zero": false},
        "axis": {"orient": "right", "values": [25200, 25400, 25600, 25800, 26000, 26200, 26400, 26600, 26800, 27000, 27200, 27400, 27600], "format": "d", "grid": false, "ticks": true, "tickSize": 3, "tickColor": "#55585e", "labelPadding": 3}},
      "color": {"datum": "SPOT INDEX\u00a0\u00a0Last *: 26805",
        "scale": {"range": ["#f2cc0c"]},
        "legend": {"orient": "none", "legendX": 924, "legendY": 319, "title": null, "symbolType": "stroke", "symbolStrokeWidth": 3, "symbolSize": 121, "labelFont": "Roboto", "labelFontSize": 10, "labelColor": "#ccccdc", "labelLimit": 400, "labelOffset": 5, "padding": 0}}
    }
  }
],
"resolve": {"scale": {"y": "independent", "color": "independent"}}
}
